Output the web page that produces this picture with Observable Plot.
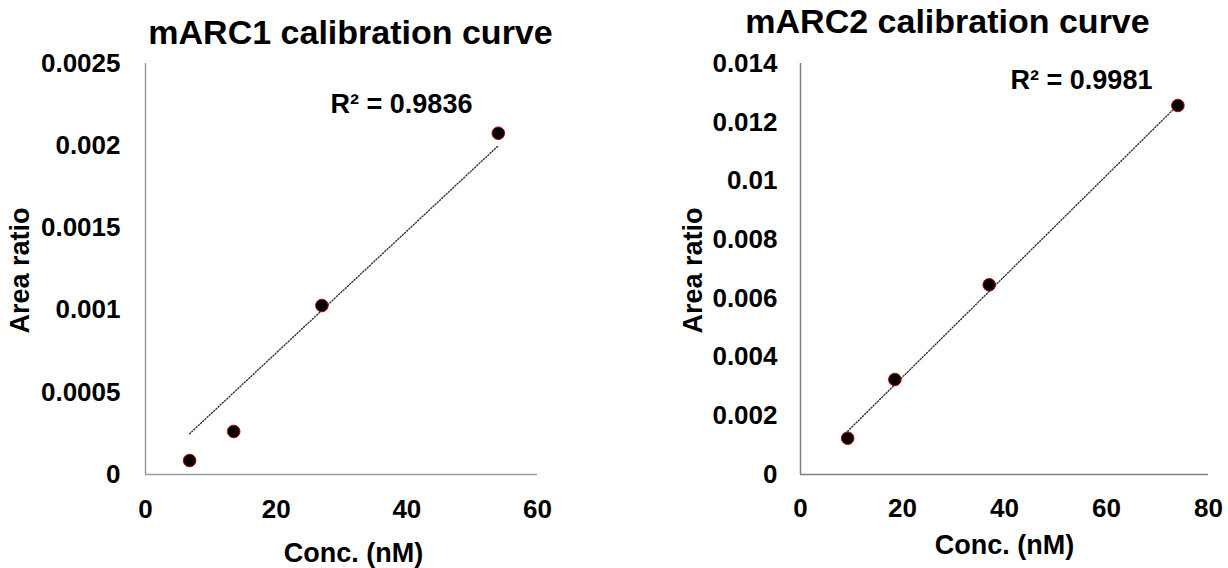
<!DOCTYPE html>
<html>
<head>
<meta charset="utf-8">
<script src="https://cdn.jsdelivr.net/npm/d3@7"></script>
<script src="https://cdn.jsdelivr.net/npm/@observablehq/plot@0.6"></script>
<style>
  html, body { margin: 0; padding: 0; background: #fff; }
  #wrap { position: relative; width: 1228px; height: 568px; overflow: hidden; }
  .panel { position: absolute; top: 0; width: 614px; height: 568px; }
</style>
</head>
<body>
<div id="wrap">
  <div class="panel" id="p1" style="left:0px"></div>
  <div class="panel" id="p2" style="left:614px"></div>
</div>
<script>
// ---- Text ----
const titles = ["mARC1 calibration curve", "mARC2 calibration curve"];
const r2Labels = ["R² = 0.9836", "R² = 0.9981"];
const xLabel = "Conc. (nM)";
const yLabel = "Area ratio";

// ---- Data: mARC1 ----
const conc1 = [6.75, 13.5, 27, 54];
const ratio1 = [0.000085, 0.000262, 0.001028, 0.002076];
const trend1X = [6.75, 54];
const trend1Y = [0.000248, 0.002];
const xTicks1 = [0, 20, 40, 60];
const yTicks1 = [0, 0.0005, 0.001, 0.0015, 0.002, 0.0025];
const yTickLabels1 = ["0", "0.0005", "0.001", "0.0015", "0.002", "0.0025"];

// ---- Data: mARC2 ----
const conc2 = [9.25, 18.5, 37, 74];
const ratio2 = [0.001237, 0.003236, 0.006462, 0.01257];
const trend2X = [9.25, 74];
const trend2Y = [0.001475, 0.01259];
const xTicks2 = [0, 20, 40, 60, 80];
const yTicks2 = [0, 0.002, 0.004, 0.006, 0.008, 0.01, 0.012, 0.014];
const yTickLabels2 = ["0", "0.002", "0.004", "0.006", "0.008", "0.01", "0.012", "0.014"];

const FONT = "'Liberation Sans', Arial, Helvetica, sans-serif";

function makeChart(cfg) {
  const pts = cfg.conc.map((c, i) => ({x: c, y: cfg.ratio[i]}));
  const trend = cfg.trendX.map((c, i) => ({x: c, y: cfg.trendY[i]}));
  const xMax = cfg.xTicks[cfg.xTicks.length - 1];
  const yMax = cfg.yTicks[cfg.yTicks.length - 1];
  return Plot.plot({
    width: 614,
    height: 568,
    marginLeft: cfg.ml,
    marginRight: cfg.mr,
    marginTop: 63,
    marginBottom: 94,
    style: {fontFamily: FONT, fontSize: "26px", fontWeight: "bold", color: "#000", background: "transparent", overflow: "visible"},
    x: {domain: [0, xMax]},
    y: {domain: [0, yMax]},
    marks: [
      Plot.ruleX([0], {y1: 0, y2: yMax, stroke: cfg.axisColor, strokeWidth: 1.5}),
      Plot.ruleY([0], {x1: 0, x2: xMax, stroke: cfg.axisColor, strokeWidth: 1.5}),
      Plot.axisY({ticks: cfg.yTicks, tickSize: 0, tickPadding: cfg.yPad, label: null,
        tickFormat: (d) => cfg.yTickLabels[cfg.yTicks.indexOf(d)], fontSize: 26, fontWeight: "bold"}),
      Plot.axisX({ticks: cfg.xTicks, tickSize: 0, tickPadding: cfg.xPad, label: null,
        tickFormat: (d) => String(d), fontSize: 26, fontWeight: "bold"}),
      Plot.line(trend, {x: "x", y: "y", stroke: "#333", strokeWidth: 1.4, strokeDasharray: "1.1,1.9"}),
      Plot.dot(pts, {x: "x", y: "y", r: 6.3, fill: "#000", stroke: "#c00000", strokeWidth: 1}),
      Plot.text([cfg.title], {frameAnchor: "top-left", dx: cfg.titleDx, dy: cfg.titleDy, textAnchor: "middle", lineAnchor: "middle", fontSize: 34, fontWeight: "bold", fill: "#000"}),
      Plot.text([cfg.r2], {frameAnchor: "top-left", dx: cfg.r2Dx, dy: cfg.r2Dy, textAnchor: "middle", lineAnchor: "middle", fontSize: 27, fontWeight: "bold", fill: "#000"}),
      Plot.text([yLabel], {frameAnchor: "top-left", dx: cfg.ylDx, dy: 207, rotate: -90, textAnchor: "middle", lineAnchor: "middle", fontSize: 27, fontWeight: "bold", fill: "#000"}),
      Plot.text([xLabel], {frameAnchor: "bottom-left", dx: cfg.xlDx, dy: cfg.xlDy, textAnchor: "middle", lineAnchor: "middle", fontSize: 27, fontWeight: "bold", fill: "#000"})
    ]
  });
}

document.getElementById("p1").appendChild(makeChart({
  conc: conc1, ratio: ratio1, trendX: trend1X, trendY: trend1Y,
  xTicks: xTicks1, yTicks: yTicks1, yTickLabels: yTickLabels1,
  ml: 145, mr: 77, yPad: 25, xPad: 25, axisColor: "#9a9a9a",
  title: titles[0], titleDx: 205, titleDy: -30,
  r2: r2Labels[0], r2Dx: 256, r2Dy: 41,
  ylDx: -125, xlDx: 208, xlDy: 79
}));

document.getElementById("p2").appendChild(makeChart({
  conc: conc2, ratio: ratio2, trendX: trend2X, trendY: trend2Y,
  xTicks: xTicks2, yTicks: yTicks2, yTickLabels: yTickLabels2,
  ml: 186, mr: 20, yPad: 23, xPad: 24, axisColor: "#808080",
  title: titles[1], titleDx: 147, titleDy: -41,
  r2: r2Labels[1], r2Dx: 281, r2Dy: 17,
  ylDx: -107, xlDx: 204, xlDy: 71
}));
</script>
</body>
</html>
